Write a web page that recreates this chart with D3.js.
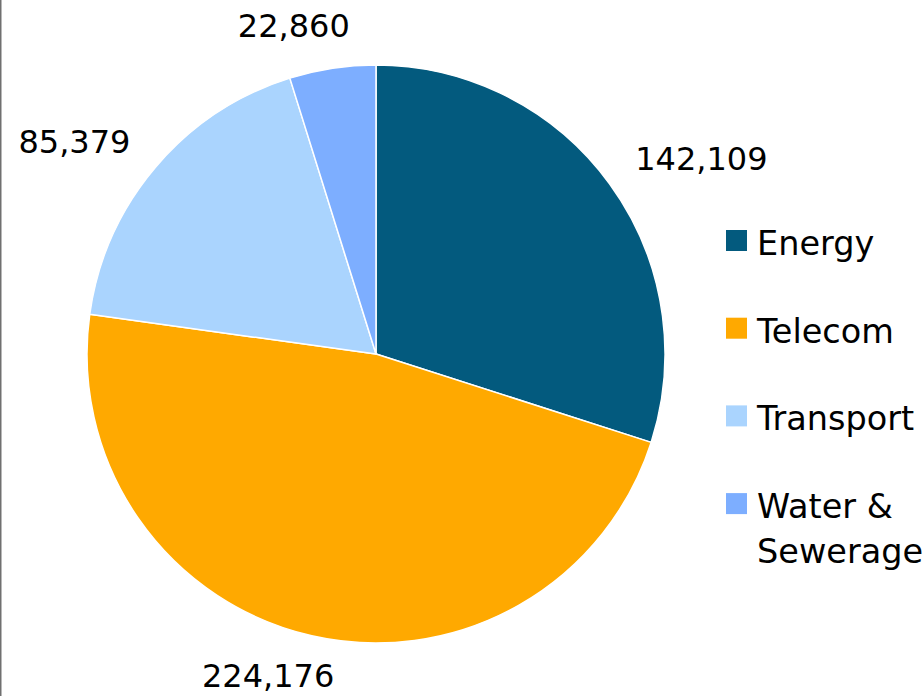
<!DOCTYPE html>
<html><head><meta charset="utf-8">
<script src="https://cdn.jsdelivr.net/npm/d3@7"></script>
<style>html,body{margin:0;padding:0;background:#fff;}svg{display:block;}</style>
</head><body>
<svg id="chart" width="924" height="696"></svg>
<script>
const categories = ["Energy", "Telecom", "Transport", "Water & Sewerage"];
const values = [142109, 224176, 85379, 22860];
const valueLabels = ["142,109", "224,176", "85,379", "22,860"];
const colors = ["#035a7e", "#ffa900", "#aad4fe", "#7daeff"];
const legendLines = [["Energy"], ["Telecom"], ["Transport"], ["Water &", "Sewerage"]];

const W = 924, H = 696;
const cx = 376, cy = 354, r = 289;
const font = "'DejaVu Sans', Verdana, sans-serif";

const svg = d3.select("#chart");
svg.append("rect").attr("width", W).attr("height", H).attr("fill", "#fff");
svg.append("line").attr("x1", 0.75).attr("x2", 0.75).attr("y1", 0).attr("y2", H)
  .attr("stroke", "#707070").attr("stroke-width", 1.5);

const data = categories.map((c, i) => ({cat: c, value: values[i], label: valueLabels[i], color: colors[i]}));
const pie = d3.pie().value(d => d.value).sort(null);
const arcs = pie(data);
const arc = d3.arc().innerRadius(0).outerRadius(r);

const g = svg.append("g").attr("transform", `translate(${cx},${cy})`);
g.selectAll("path").data(arcs).join("path")
  .attr("d", arc)
  .attr("fill", d => d.data.color)
  .attr("stroke", "#fff").attr("stroke-width", 1.5).attr("stroke-linejoin", "round");

// data labels: outside the pie, pushed slightly away from the vertical axis
const push = 5.5 * Math.PI / 180, R0 = 320;
const lbl = g.selectAll("text.lbl").data(arcs).join("text")
  .attr("class", "lbl")
  .attr("font-family", font).attr("font-size", 32).attr("fill", "#000")
  .attr("text-anchor", "middle")
  .text(d => d.data.label);
lbl.each(function(d) {
  const mid = (d.startAngle + d.endAngle) / 2;
  const a = mid + push * Math.sign(Math.sin(2 * mid));
  const w = this.getComputedTextLength();
  const hh = 2;
  const s = Math.sin(a), c = Math.cos(a);
  const dist = R0 + Math.abs(s) * w / 2 + Math.abs(c) * hh;
  const x = s * dist, y = -c * dist;
  d3.select(this).attr("x", x).attr("y", y + 8);
});

// legend
const legX = 726, legTop = 230, step = 87.7, lineH = 45;
const leg = svg.append("g");
data.forEach((d, i) => {
  const y0 = legTop + i * step;
  leg.append("rect").attr("x", legX).attr("y", y0).attr("width", 21).attr("height", 21).attr("fill", d.color);
  const t = leg.append("text").attr("font-family", font).attr("font-size", 33.5).attr("fill", "#000");
  legendLines[i].forEach((ln, j) => {
    t.append("tspan").attr("x", legX + 31).attr("y", y0 + 25 + j * lineH).text(ln);
  });
});
</script>
</body></html>
